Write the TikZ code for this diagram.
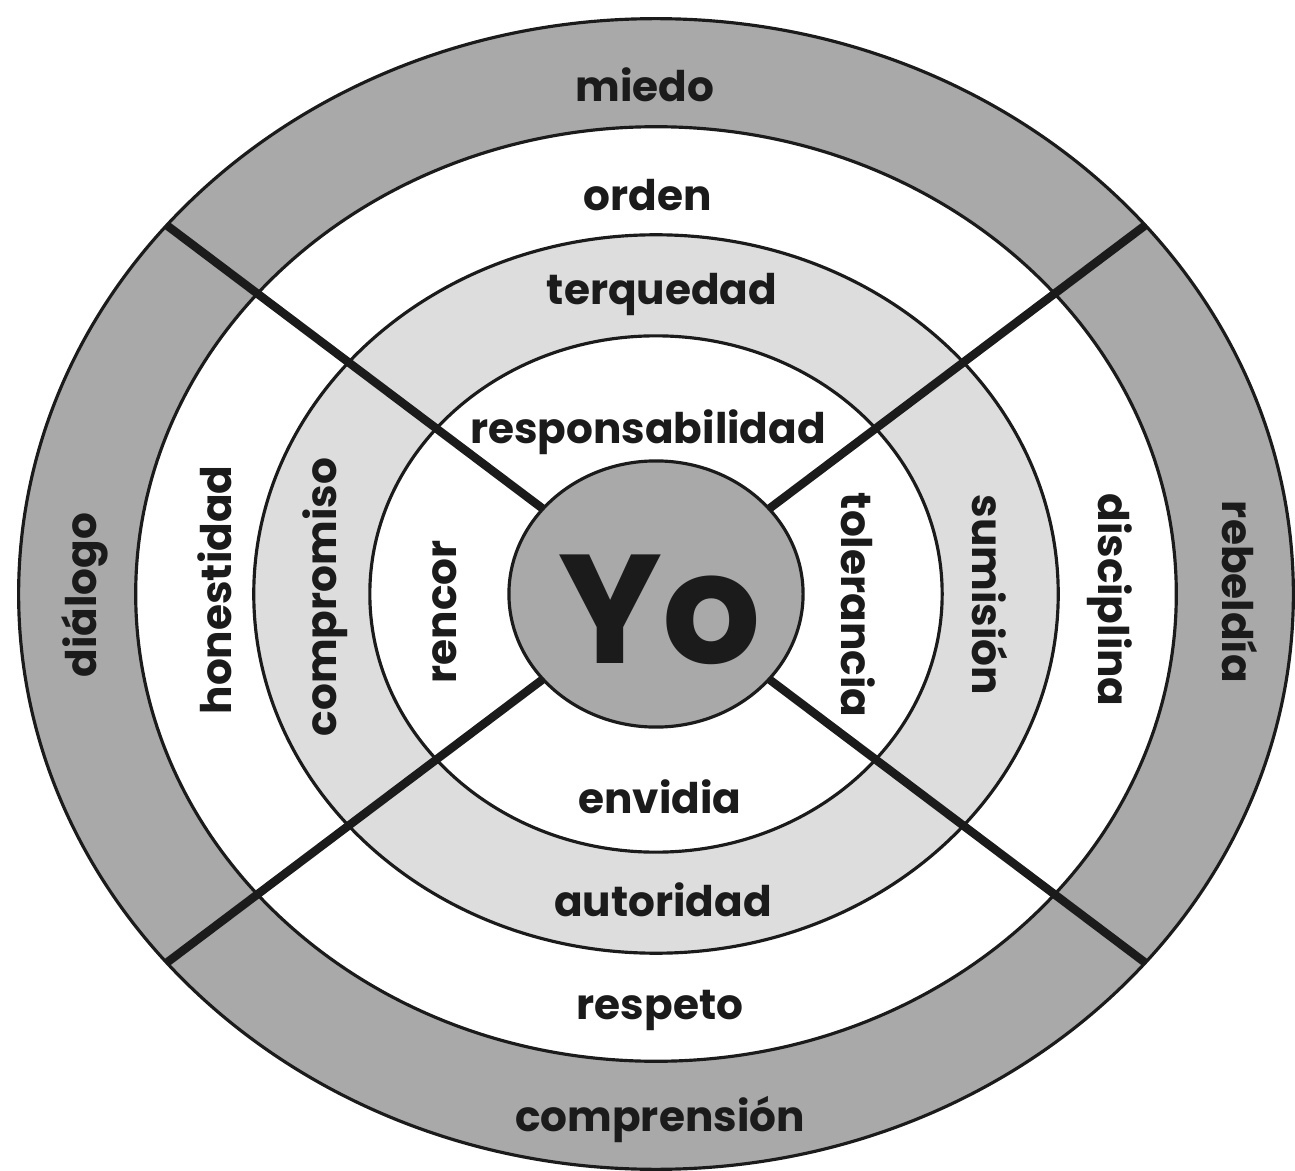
\documentclass[tikz,border=0pt]{standalone}
\usepackage{fontspec}
\setmainfont{Poppins}
\usetikzlibrary{shapes.geometric}
\definecolor{ink}{HTML}{1B1B1B}
\definecolor{shade}{HTML}{A9A9A9}
\definecolor{mist}{HTML}{DDDDDD}
\tikzset{ring/.style={ellipse,draw=ink,line width=0.9pt,inner sep=0pt,outer sep=0pt},word/.style={font=\fontsize{12}{14}\selectfont\bfseries,text=ink,inner sep=0pt},upword/.style={word,rotate=90},downword/.style={word,rotate=-90},divider/.style={draw=ink,line width=2.4pt}}

\begin{document}
\begin{tikzpicture}[x=0.01cm,y=0.01cm]
\useasboundingbox (-656,-576) rectangle (639,594);
\node[ring,fill=shade,minimum width=12.74cm,minimum height=11.5cm] (outer) at (0,0) {};
\node[ring,fill=white,minimum width=10.4cm,minimum height=9.34cm] (second) at (0,0) {};
\node[ring,fill=mist,minimum width=8.04cm,minimum height=7.18cm] (third) at (0,0) {};
\node[ring,fill=white,minimum width=5.72cm,minimum height=5.16cm] (fourth) at (0,0) {};
\node[ring,fill=shade,minimum width=2.94cm,minimum height=2.66cm] (yo) at (0,0) {};
\foreach \a in {37,143,217,323}
  \draw[divider] (yo.\a) -- (outer.\a);
\node[word] (miedo) at (-11,509) {miedo};
\node[word] (orden) at (-8,399) {orden};
\node[word] (terquedad) at (6,299) {terquedad};
\node[word] (responsabilidad) at (-8,162) {responsabilidad};
\node[word] (envidia) at (4,-203) {envidia};
\node[word] (autoridad) at (7,-306) {autoridad};
\node[word] (respeto) at (4,-416) {respeto};
\node[word] (comprension) at (4,-526) {comprensión};
\node[upword] (dialogo) at (-571,-1) {diálogo};
\node[upword] (honestidad) at (-441,4) {honestidad};
\node[upword] (compromiso) at (-331,-3) {compromiso};
\node[upword] (rencor) at (-211,-18) {rencor};
\node[downword] (tolerancia) at (202,-11) {tolerancia};
\node[downword] (sumision) at (334,-1) {sumisión};
\node[downword] (disciplina) at (454,-6) {disciplina};
\node[downword] (rebeldia) at (584,2) {rebeldía};
\node[word,font=\fontsize{44}{48}\selectfont\bfseries] (yotext) at (4,-16) {Yo};
\end{tikzpicture}
\end{document}
